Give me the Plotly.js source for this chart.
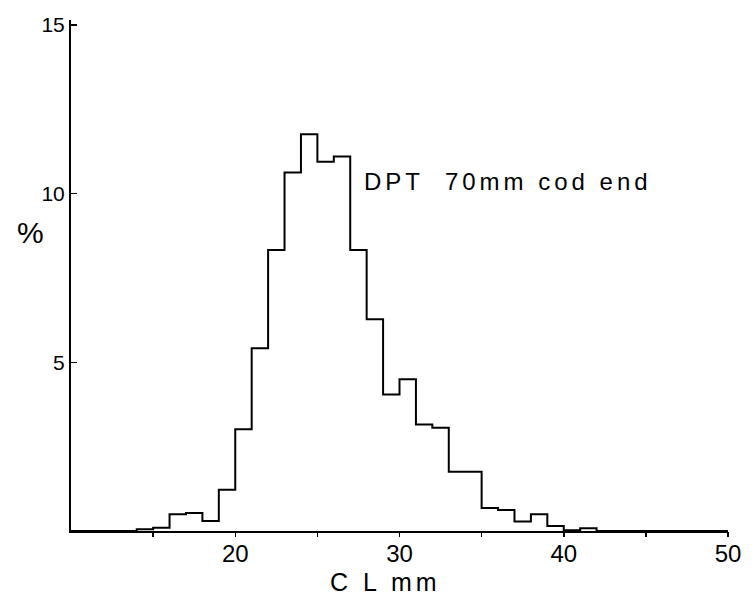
<!DOCTYPE html>
<html>
<head>
<meta charset="utf-8">
<script src="https://cdn.plot.ly/plotly-3.0.1.min.js"></script>
<style>html,body{margin:0;padding:0;background:#fff;}#chart{width:752px;height:602px;}</style>
</head>
<body>
<div id="chart"></div>
<script>
// Bin left edges (CL mm, 1 mm bins) and percentage in each bin
const binEdges = [10,11,12,13,14,15,16,17,18,19,20,21,22,23,24,25,26,27,28,29,30,31,32,33,34,35,36,37,38,39,40,41,42,43,44,45,46,47,48,49,50];
const percents = [0,0,0,0,0.05,0.1,0.5,0.53,0.3,1.22,3.02,5.42,8.33,10.63,11.76,10.95,11.1,8.33,6.28,4.05,4.5,3.16,3.06,1.76,1.76,0.68,0.62,0.28,0.5,0.15,0.02,0.08,0,0,0,0,0,0,0,0];
const xLabelVals = [20,30,40,50];
const xLabelText = ['20','30','40','50'];
const xTickMarks = [15,20,25,30,35,40,45,50];
const yTickVals = [5,10,15];
const yTickText = ['5','10','15'];
const seriesLabel = 'DPT  70mm cod end';
const xLabel = 'C L mm';
const yLabel = '%';

const yStep = percents.concat([percents[percents.length - 1]]);

const trace = {
  x: binEdges,
  y: yStep,
  type: 'scatter',
  mode: 'lines',
  line: {shape: 'hv', color: '#000', width: 2},
  hoverinfo: 'skip'
};
// empty trace so the tick-mark axis is drawn
const tickTrace = {x: [], y: [], xaxis: 'x2', yaxis: 'y', type: 'scatter', mode: 'lines', hoverinfo: 'skip'};

const font = 'Liberation Sans, Arial, sans-serif';

const layout = {
  width: 752, height: 602,
  margin: {l: 71, r: 24, t: 20, b: 71},
  paper_bgcolor: '#fff', plot_bgcolor: '#fff',
  showlegend: false,
  xaxis: {
    range: [10, 50], showgrid: false, zeroline: false,
    showline: true, linecolor: '#000', linewidth: 2,
    tickmode: 'array', tickvals: xLabelVals, ticktext: xLabelText,
    ticks: '',
    tickfont: {family: font, size: 24, color: '#000'}
  },
  xaxis2: {
    overlaying: 'x', anchor: 'y', side: 'bottom',
    range: [10, 50], showgrid: false, zeroline: false, showline: false,
    tickmode: 'array', tickvals: xTickMarks, showticklabels: false,
    ticks: 'outside', ticklen: 5, tickwidth: 1.5, tickcolor: '#000'
  },
  yaxis: {
    range: [0, 15.15], showgrid: false, zeroline: false,
    showline: true, linecolor: '#000', linewidth: 2,
    tickmode: 'array', tickvals: yTickVals, ticktext: yTickText,
    ticks: 'inside', ticklen: 6, tickwidth: 1.5, tickcolor: '#000',
    tickfont: {family: font, size: 21, color: '#000'}
  },
  annotations: [
    {xref: 'paper', yref: 'paper', x: 0.478, y: 0, yshift: -51, xanchor: 'center', yanchor: 'middle',
     text: '<span style="letter-spacing:4px">' + xLabel + '</span>', showarrow: false,
     font: {family: font, size: 25, color: '#000'}},
    {xref: 'paper', yref: 'paper', x: 0, xshift: -41, y: 0.585, xanchor: 'center', yanchor: 'middle',
     text: yLabel, showarrow: false, font: {family: font, size: 30, color: '#000'}},
    {xref: 'x', yref: 'y', x: 27.7, y: 10.35, xanchor: 'left', yanchor: 'middle',
     text: '<span style="letter-spacing:4px">' + seriesLabel + '</span>', showarrow: false,
     font: {family: font, size: 24, color: '#000'}}
  ]
};

Plotly.newPlot('chart', [trace, tickTrace], layout, {displayModeBar: false, staticPlot: true});
</script>
</body>
</html>
